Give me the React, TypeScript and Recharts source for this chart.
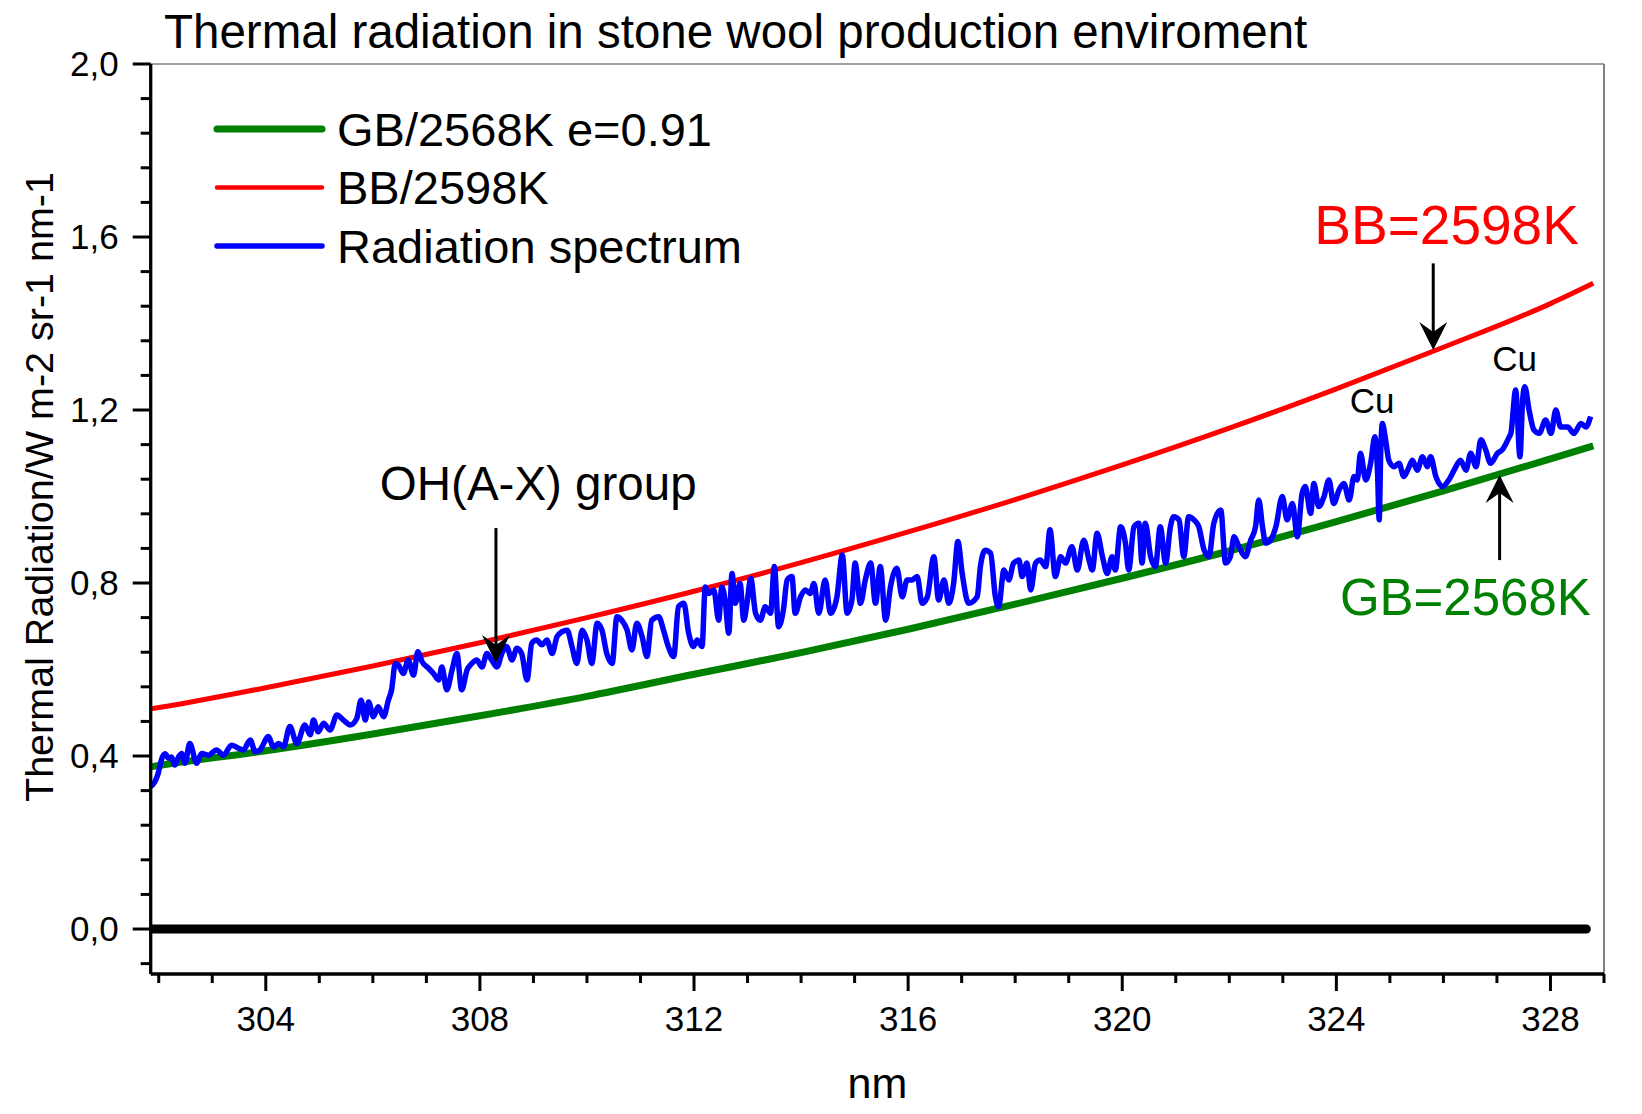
import React from "react";
import { Legend, Line, LineChart, ReferenceDot, ReferenceLine, XAxis, YAxis } from "recharts";

const FONT = '"Liberation Sans", Arial, sans-serif';

// Wavelength grid for the two model curves (nm)
const CURVE_NM = [301.85, 302, 304, 306, 308, 310, 312, 314, 316, 318, 320, 322, 324, 326, 328, 328.8];
const BB_2598K = [0.509, 0.512, 0.558, 0.608, 0.662, 0.72, 0.781, 0.847, 0.918, 0.993, 1.073, 1.158, 1.249, 1.345, 1.446, 1.493];
const GB_2568K = [0.375, 0.378, 0.412, 0.451, 0.493, 0.538, 0.589, 0.639, 0.693, 0.751, 0.811, 0.874, 0.942, 1.013, 1.087, 1.117];

// Measured spectrum, [nm, radiance]
const SPECTRUM: [number, number][] = [
  [301.85, 0.329], [301.93, 0.341], [301.99, 0.36], [302.06, 0.395], [302.12, 0.405], [302.18, 0.395],
  [302.24, 0.398], [302.3, 0.379], [302.37, 0.398], [302.43, 0.406], [302.49, 0.383], [302.58, 0.429],
  [302.71, 0.383], [302.8, 0.406], [302.93, 0.402], [303.08, 0.414], [303.21, 0.402], [303.36, 0.425],
  [303.49, 0.418], [303.58, 0.414], [303.71, 0.437], [303.8, 0.41], [303.89, 0.414], [304.05, 0.445],
  [304.14, 0.421], [304.24, 0.429], [304.33, 0.421], [304.45, 0.468], [304.58, 0.429], [304.73, 0.472],
  [304.83, 0.449], [304.89, 0.483], [304.98, 0.456], [305.08, 0.476], [305.2, 0.46], [305.33, 0.495],
  [305.45, 0.483], [305.58, 0.472], [305.7, 0.487], [305.78, 0.529], [305.86, 0.483], [305.92, 0.525],
  [306.01, 0.491], [306.1, 0.514], [306.2, 0.491], [306.29, 0.529], [306.35, 0.553], [306.42, 0.614],
  [306.48, 0.61], [306.57, 0.591], [306.66, 0.622], [306.76, 0.587], [306.84, 0.641], [306.92, 0.618],
  [307.04, 0.603], [307.13, 0.591], [307.23, 0.576], [307.29, 0.606], [307.38, 0.553], [307.48, 0.599],
  [307.57, 0.637], [307.66, 0.553], [307.76, 0.599], [307.85, 0.614], [307.94, 0.622], [308.04, 0.606],
  [308.13, 0.637], [308.22, 0.622], [308.32, 0.606], [308.41, 0.637], [308.5, 0.653], [308.6, 0.622],
  [308.69, 0.649], [308.78, 0.637], [308.88, 0.576], [308.97, 0.661], [309.06, 0.668], [309.16, 0.657],
  [309.25, 0.668], [309.35, 0.637], [309.44, 0.676], [309.53, 0.687], [309.63, 0.691], [309.72, 0.653],
  [309.81, 0.614], [309.91, 0.691], [310.0, 0.668], [310.09, 0.614], [310.19, 0.707], [310.28, 0.691],
  [310.37, 0.637], [310.47, 0.614], [310.56, 0.722], [310.65, 0.714], [310.75, 0.691], [310.84, 0.645],
  [310.93, 0.707], [311.03, 0.676], [311.12, 0.63], [311.21, 0.714], [311.34, 0.722], [311.43, 0.691],
  [311.52, 0.653], [311.62, 0.63], [311.71, 0.745], [311.81, 0.753], [311.9, 0.684], [311.99, 0.653],
  [312.06, 0.668], [312.15, 0.653], [312.21, 0.791], [312.27, 0.776], [312.37, 0.784], [312.46, 0.714],
  [312.52, 0.791], [312.58, 0.761], [312.65, 0.684], [312.71, 0.822], [312.77, 0.753], [312.86, 0.799],
  [312.93, 0.714], [312.99, 0.753], [313.06, 0.811], [313.15, 0.73], [313.24, 0.714], [313.33, 0.745],
  [313.43, 0.73], [313.5, 0.838], [313.58, 0.699], [313.67, 0.738], [313.74, 0.807], [313.83, 0.815],
  [313.89, 0.73], [313.99, 0.768], [314.08, 0.784], [314.17, 0.776], [314.24, 0.799], [314.33, 0.73],
  [314.45, 0.807], [314.55, 0.73], [314.67, 0.768], [314.77, 0.865], [314.86, 0.73], [314.95, 0.761],
  [315.01, 0.846], [315.11, 0.753], [315.2, 0.807], [315.3, 0.846], [315.39, 0.753], [315.48, 0.838],
  [315.58, 0.714], [315.67, 0.791], [315.79, 0.834], [315.89, 0.768], [315.98, 0.807], [316.07, 0.807],
  [316.17, 0.815], [316.26, 0.753], [316.36, 0.768], [316.48, 0.861], [316.57, 0.761], [316.67, 0.807],
  [316.76, 0.753], [316.85, 0.799], [316.93, 0.896], [317.01, 0.822], [317.13, 0.753], [317.29, 0.768],
  [317.35, 0.838], [317.44, 0.876], [317.54, 0.869], [317.63, 0.768], [317.69, 0.745], [317.79, 0.83],
  [317.88, 0.807], [317.97, 0.846], [318.07, 0.853], [318.13, 0.815], [318.22, 0.846], [318.29, 0.784],
  [318.38, 0.846], [318.47, 0.853], [318.57, 0.838], [318.65, 0.923], [318.75, 0.815], [318.85, 0.861],
  [318.94, 0.846], [319.06, 0.884], [319.16, 0.83], [319.28, 0.899], [319.38, 0.853], [319.44, 0.83],
  [319.53, 0.915], [319.63, 0.861], [319.72, 0.822], [319.81, 0.861], [319.87, 0.83], [319.97, 0.93],
  [320.06, 0.892], [320.12, 0.83], [320.22, 0.93], [320.31, 0.938], [320.37, 0.846], [320.43, 0.938],
  [320.53, 0.861], [320.62, 0.838], [320.71, 0.93], [320.81, 0.846], [320.9, 0.93], [320.96, 0.953],
  [321.06, 0.946], [321.15, 0.861], [321.24, 0.953], [321.34, 0.946], [321.43, 0.93], [321.53, 0.876],
  [321.62, 0.861], [321.71, 0.938], [321.84, 0.969], [321.93, 0.846], [322.02, 0.861], [322.09, 0.907],
  [322.18, 0.884], [322.3, 0.861], [322.4, 0.899], [322.49, 0.93], [322.55, 0.992], [322.62, 0.93],
  [322.68, 0.892], [322.77, 0.899], [322.87, 0.93], [322.99, 1.0], [323.08, 0.946], [323.18, 0.984],
  [323.27, 0.907], [323.36, 1.007], [323.42, 1.023], [323.52, 0.961], [323.58, 1.03], [323.67, 0.977],
  [323.77, 1.0], [323.86, 1.038], [323.95, 0.984], [324.05, 1.015], [324.14, 1.03], [324.24, 0.992],
  [324.33, 1.046], [324.39, 1.038], [324.45, 1.1], [324.55, 1.038], [324.64, 1.077], [324.72, 1.138],
  [324.77, 1.054], [324.8, 0.946], [324.83, 1.108], [324.86, 1.169], [324.92, 1.131], [324.98, 1.084],
  [325.08, 1.069], [325.17, 1.077], [325.26, 1.046], [325.36, 1.069], [325.42, 1.084], [325.51, 1.061],
  [325.61, 1.092], [325.7, 1.069], [325.76, 1.092], [325.86, 1.046], [325.98, 1.023], [326.1, 1.038],
  [326.2, 1.061], [326.32, 1.084], [326.42, 1.061], [326.51, 1.1], [326.61, 1.069], [326.7, 1.131],
  [326.79, 1.108], [326.88, 1.077], [327.01, 1.1], [327.1, 1.108], [327.23, 1.138], [327.26, 1.146],
  [327.35, 1.246], [327.43, 1.092], [327.48, 1.223], [327.52, 1.254], [327.6, 1.2], [327.69, 1.154],
  [327.79, 1.146], [327.91, 1.177], [328.01, 1.146], [328.1, 1.2], [328.19, 1.161], [328.32, 1.161],
  [328.44, 1.146], [328.57, 1.169], [328.66, 1.161], [328.75, 1.185]
];

// zero baseline drawn across the plot
const ZERO_NM = [301.85, 328.67];

const X_TICKS = [302, 303, 304, 305, 306, 307, 308, 309, 310, 311, 312, 313, 314, 315, 316, 317, 318, 319, 320, 321, 322, 323, 324, 325, 326, 327, 328, 329];
const X_MAJOR = [304, 308, 312, 316, 320, 324, 328];
const Y_TICKS = [-0.08, 0, 0.08, 0.16, 0.24, 0.32, 0.4, 0.48, 0.56, 0.64, 0.72, 0.8, 0.88, 0.96, 1.04, 1.12, 1.2, 1.28, 1.36, 1.44, 1.52, 1.6, 1.68, 1.76, 1.84, 1.92, 2.0];
const Y_MAJOR = [0, 0.4, 0.8, 1.2, 1.6, 2.0];

const LEGEND_ORDER = ["GB/2568K e=0.91", "BB/2598K", "Radiation spectrum"];
const LEGEND_STROKE: Record<string, number> = {
  "GB/2568K e=0.91": 7,
  "BB/2598K": 4.5,
  "Radiation spectrum": 5.5
};

const bbData = CURVE_NM.map((x, i) => ({ x, y: BB_2598K[i] }));
const gbData = CURVE_NM.map((x, i) => ({ x, y: GB_2568K[i] }));
const spectrumData = SPECTRUM.map(([x, y]) => ({ x, y }));
const zeroData = ZERO_NM.map((x) => ({ x, y: 0 }));

function XTick({ x, y, payload }: any) {
  const major = X_MAJOR.includes(payload.value);
  return (
    <g>
      <line x1={x} x2={x} y1={y} y2={y + (major ? 17 : 9)} stroke="#000" strokeWidth={3} />
      {major && (
        <text x={x} y={y + 57} textAnchor="middle" fontSize={35} fontFamily={FONT} fill="#000">
          {payload.value}
        </text>
      )}
    </g>
  );
}

function YTick({ x, y, payload }: any) {
  const major = Y_MAJOR.includes(payload.value);
  return (
    <g>
      <line x1={x - (major ? 18 : 10)} x2={x} y1={y} y2={y} stroke="#000" strokeWidth={3} />
      {major && (
        <text x={x - 32} y={y} dy="0.355em" textAnchor="end" fontSize={35} fontFamily={FONT} fill="#000">
          {payload.value.toFixed(1).replace(".", ",")}
        </text>
      )}
    </g>
  );
}

function YTitle({ viewBox }: any) {
  const vb = viewBox ?? { x: 70.7, y: 64, width: 80, height: 910 };
  const cx = vb.x - 18;
  const cy = vb.y + vb.height / 2 - 32;
  return (
    <text x={cx} y={cy} transform={`rotate(-90, ${cx}, ${cy})`} textAnchor="middle" fontSize={39.5} fontFamily={FONT} fill="#000">
      Thermal Radiation/W m-2 sr-1 nm-1
    </text>
  );
}

function XTitle({ viewBox }: any) {
  const vb = viewBox ?? { x: 150.7, y: 974, width: 1453.3, height: 60 };
  return (
    <text x={vb.x + vb.width / 2} y={vb.y + 124} textAnchor="middle" fontSize={43} fontFamily={FONT} fill="#000">
      nm
    </text>
  );
}

function note(text: string, size: number, color: string) {
  return (props: any) => (
    <text x={props.cx} y={props.cy} dy="0.355em" textAnchor="middle" fontSize={size} fontFamily={FONT} fill={color}>
      {text}
    </text>
  );
}

function Arrow(props: any) {
  const { x1, y1, x2, y2 } = props;
  const dx = x2 - x1;
  const dy = y2 - y1;
  const len = Math.hypot(dx, dy) || 1;
  const ux = dx / len;
  const uy = dy / len;
  const px = -uy;
  const py = ux;
  const back = 28;
  const half = 14;
  const notch = 18;
  const bx = x2 - ux * back;
  const by = y2 - uy * back;
  const nx = x2 - ux * notch;
  const ny = y2 - uy * notch;
  const head = `M${x2},${y2} L${bx + px * half},${by + py * half} L${nx},${ny} L${bx - px * half},${by - py * half} Z`;
  return (
    <g>
      <line x1={x1} y1={y1} x2={nx} y2={ny} stroke="#000" strokeWidth={3} />
      <path d={head} fill="#000" />
    </g>
  );
}

function LegendBox({ payload }: any) {
  const items = (payload ?? [])
    .filter((entry: any) => LEGEND_ORDER.includes(entry.value))
    .sort((a: any, b: any) => LEGEND_ORDER.indexOf(a.value) - LEGEND_ORDER.indexOf(b.value));
  return (
    <svg width={560} height={230} style={{ overflow: "visible" }}>
      {items.map((entry: any, i: number) => {
        const cy = 33 + i * 58.5;
        return (
          <g key={entry.value}>
            <line x1={10} x2={115} y1={cy} y2={cy} stroke={entry.color} strokeWidth={LEGEND_STROKE[entry.value] ?? 5} strokeLinecap="round" />
            <text x={130} y={cy} dy="0.355em" fontSize={47} fontFamily={FONT} fill="#000">
              {entry.value}
            </text>
          </g>
        );
      })}
    </svg>
  );
}

export default function App() {
  return (
    <div style={{ position: "relative", width: 1642, height: 1114, background: "#fff" }}>
      <style>{"body{margin:0;background:#fff}"}</style>
      <LineChart width={1642} height={1114} margin={{ top: 64, right: 38, bottom: 80, left: 70.7 }}>
        <XAxis
          type="number"
          dataKey="x"
          domain={[301.85, 329]}
          allowDataOverflow
          ticks={X_TICKS}
          interval={0}
          tickSize={0}
          tickMargin={0}
          tickLine={false}
          tick={(p: any) => <XTick {...p} />}
          height={60}
          axisLine={{ stroke: "#000", strokeWidth: 3.3 }}
          label={<XTitle />}
        />
        <YAxis
          type="number"
          dataKey="y"
          domain={[-0.104, 2.0]}
          allowDataOverflow
          ticks={Y_TICKS}
          interval={0}
          tickSize={0}
          tickMargin={0}
          tickLine={false}
          tick={(p: any) => <YTick {...p} />}
          width={80}
          axisLine={{ stroke: "#000", strokeWidth: 3.3 }}
          label={<YTitle />}
        />
        <ReferenceLine y={2} stroke="#808080" strokeWidth={1.5} />
        <ReferenceLine x={329} stroke="#808080" strokeWidth={2} />
        <Legend
          layout="vertical"
          align="center"
          verticalAlign="middle"
          content={<LegendBox />}
          wrapperStyle={{ position: "absolute", left: 207, top: 96, width: 560, height: 230 }}
        />
        <Line data={zeroData} dataKey="y" name="zero" legendType="none" stroke="#000" strokeWidth={9} strokeLinecap="round" dot={false} activeDot={false} isAnimationActive={false} />
        <Line data={gbData} dataKey="y" name="GB/2568K e=0.91" type="monotone" stroke="#008000" strokeWidth={7} dot={false} activeDot={false} isAnimationActive={false} />
        <Line data={bbData} dataKey="y" name="BB/2598K" type="monotone" stroke="#ff0000" strokeWidth={5} dot={false} activeDot={false} isAnimationActive={false} />
        <Line data={spectrumData} dataKey="y" name="Radiation spectrum" type="monotone" stroke="#0000ff" strokeWidth={5.5} strokeLinejoin="round" dot={false} activeDot={false} isAnimationActive={false} />
        <ReferenceLine segment={[{ x: 308.3, y: 0.927 }, { x: 308.3, y: 0.615 }]} shape={(p: any) => <Arrow {...p} />} />
        <ReferenceLine segment={[{ x: 325.81, y: 1.539 }, { x: 325.81, y: 1.339 }]} shape={(p: any) => <Arrow {...p} />} />
        <ReferenceLine segment={[{ x: 327.05, y: 0.853 }, { x: 327.05, y: 1.05 }]} shape={(p: any) => <Arrow {...p} />} />
        <ReferenceDot x={309.09} y={1.032} r={0} shape={note("OH(A-X) group", 47.5, "#000")} />
        <ReferenceDot x={326.06} y={1.629} r={0} shape={note("BB=2598K", 55, "#ff0000")} />
        <ReferenceDot x={326.41} y={0.768} r={0} shape={note("GB=2568K", 51, "#008000")} />
        <ReferenceDot x={324.67} y={1.222} r={0} shape={note("Cu", 35, "#000")} />
        <ReferenceDot x={327.33} y={1.32} r={0} shape={note("Cu", 35, "#000")} />
      </LineChart>
      <svg width={1642} height={80} style={{ position: "absolute", left: 0, top: 0, pointerEvents: "none" }}>
        <text x={164} y={48} fontSize={47.5} fontFamily={FONT} fill="#000">
          Thermal radiation in stone wool production enviroment
        </text>
      </svg>
    </div>
  );
}
